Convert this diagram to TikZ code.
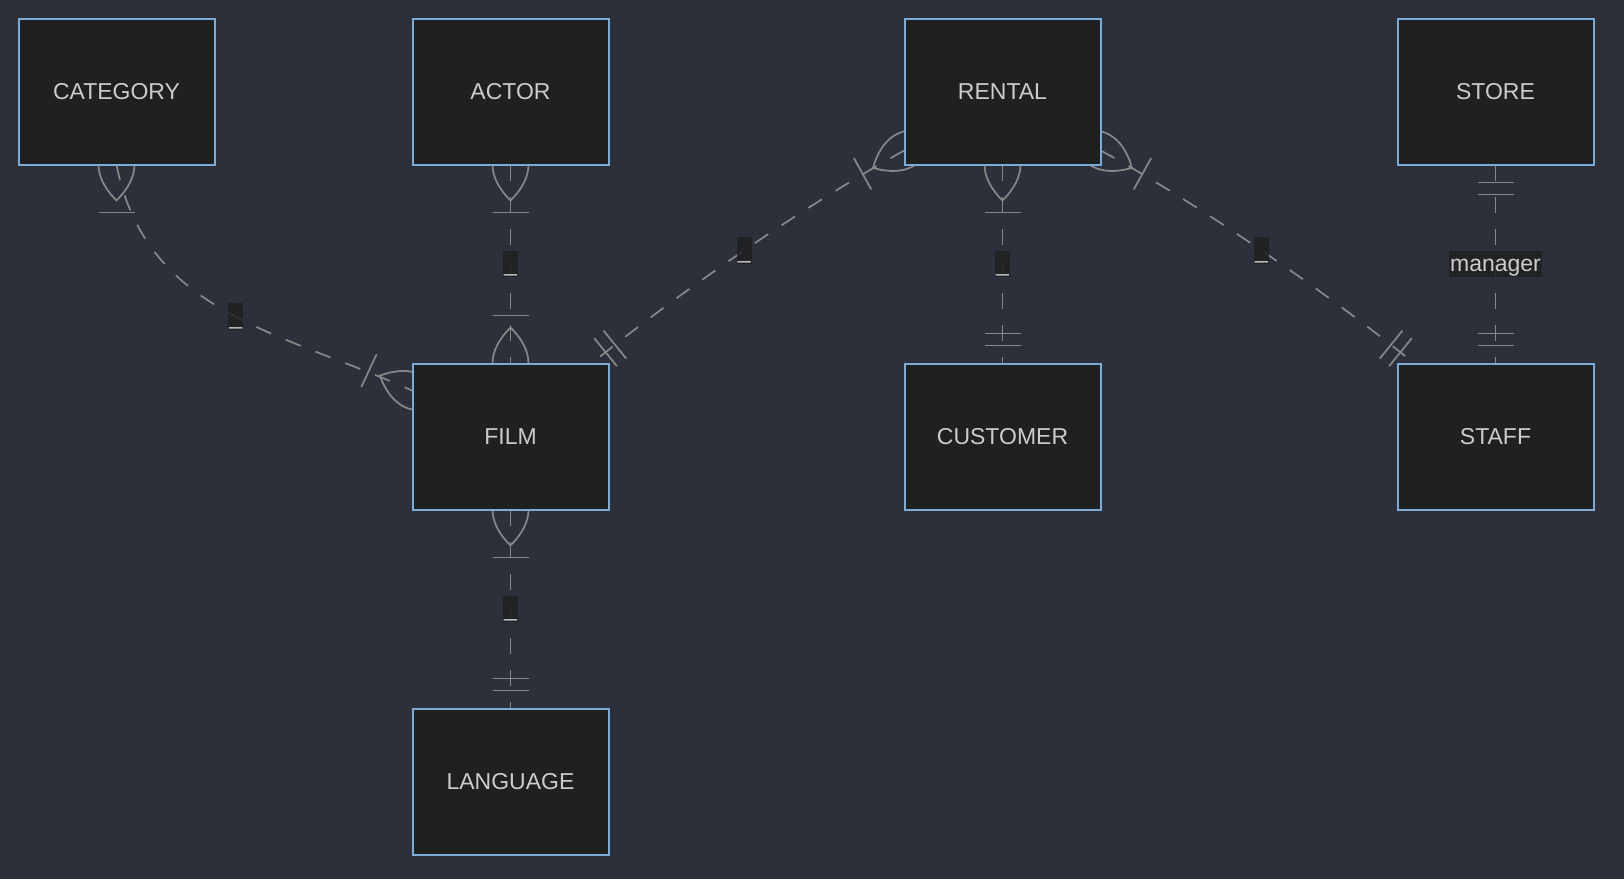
\documentclass[tikz,border=0pt]{standalone}
\usepackage{fontspec}
\setmainfont{Liberation Sans}
\usetikzlibrary{positioning, backgrounds}

\definecolor{canvasbg}{HTML}{2B303B}
\definecolor{entityfill}{HTML}{1F2020}
\definecolor{entityline}{HTML}{7EAAD6}
\definecolor{relline}{HTML}{888888}
\definecolor{labeltext}{HTML}{CCCCCC}

\tikzset{
    pics/onemany/.style={code={
        \draw[cardinality] (-36,0) .. controls (-12,24) and (12,24) .. (36,0)
            .. controls (12,-24) and (-12,-24) .. (-36,0);
        \draw[cardinality] (48,-18) -- (48,18);
    }},
    pics/onlyone/.style={code={
        \draw[cardinality] (18,-18) -- (18,18);
        \draw[cardinality] (30,-18) -- (30,18);
    }}
}

\begin{document}
\begin{tikzpicture}[
        x=1pt, y=-1pt,
        font=\fontsize{23}{27}\selectfont,
        node distance=199pt and 296pt,
        entity/.style={
            draw=entityline,
            line width=2pt,
            fill=entityfill,
            text=labeltext,
            minimum width=196pt,
            minimum height=146pt,
            inner sep=0pt,
            outer sep=0pt
        },
        relation/.style={
            draw=relline,
            line width=1.7pt,
            dash pattern=on 16pt off 16pt
        },
        cardinality/.style={
            draw=relline,
            line width=1.7pt,
            solid
        },
        rolelabel/.style={
            fill=entityfill, fill opacity=0.85, text opacity=1,
            text=labeltext,
            inner xsep=1.2pt, inner ysep=0.4pt,
            text height=20.8pt, text depth=4.9pt
        }
    ]

    \useasboundingbox (0,0) rectangle (1624,879);

    \node[entity] (category) at (116.5,91.5) {CATEGORY};
    \node[entity, right=198pt of category] (actor) {ACTOR};
    \node[entity, right=of actor] (rental) {RENTAL};
    \node[entity, right=297pt of rental] (store) {STORE};
    \node[entity, below=of actor] (film) {FILM};
    \node[entity, below=of film] (language) {LANGUAGE};
    \node[entity, below=of rental] (customer) {CUSTOMER};
    \node[entity, below=of store] (staff) {STAFF};

    \begin{scope}[on background layer]
    \fill[canvasbg] (0,0) rectangle (1624,879);

    \draw[relation] (category.south) .. controls (146,314) and (280,331)
        .. (film.155) node[rolelabel, pos=0.53]{\_};
    \pic[rotate=-90] at (category.south) {onemany};
    \pic[rotate=155] at (film.155) {onemany};

    \draw[relation] (actor.south) -- node[rolelabel]{\_} (film.north);
    \pic[rotate=-90] at (actor.south) {onemany};
    \pic[rotate=90] at (film.north) {onemany};

    \draw[relation] (film.south) -- node[rolelabel]{\_} (language.north);
    \pic[rotate=-90] at (film.south) {onemany};
    \pic[rotate=90] at (language.north) {onlyone};

    \draw[relation] (rental.-149) .. controls (807.4,203.6) and (678.5,292.8)
        .. (film.42) node[rolelabel, midway]{\_};
    \pic[rotate=-151] at (rental.-149) {onemany};
    \pic[rotate=39] at (film.42) {onlyone};

    \draw[relation] (rental.south) -- node[rolelabel]{\_} (customer.north);
    \pic[rotate=-90] at (rental.south) {onemany};
    \pic[rotate=90] at (customer.north) {onlyone};

    \draw[relation] (rental.-31) .. controls (1198.3,203.6) and (1327.2,292.8)
        .. (staff.138) node[rolelabel, midway]{\_};
    \pic[rotate=-29] at (rental.-31) {onemany};
    \pic[rotate=141] at (staff.138) {onlyone};

    \draw[relation] (store.south) -- node[rolelabel]{manager} (staff.north);
    \pic[rotate=-90] at (store.south) {onlyone};
    \pic[rotate=90] at (staff.north) {onlyone};
    \end{scope}

    \end{tikzpicture}
\end{document}
